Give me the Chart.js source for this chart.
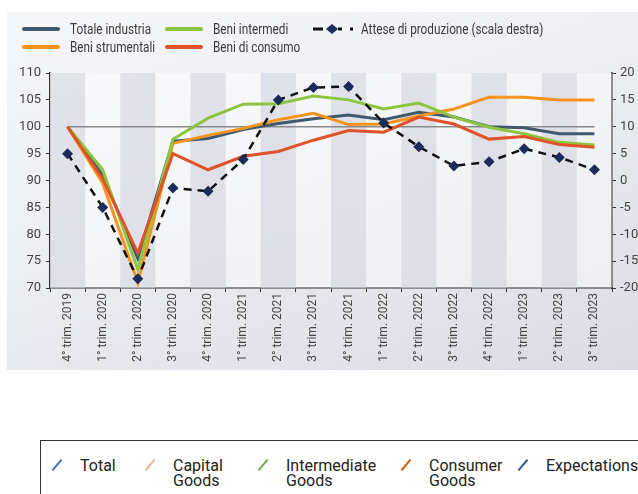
<!DOCTYPE html>
<html lang="it">
<head>
<meta charset="utf-8">
<script src="https://cdn.jsdelivr.net/npm/chart.js@4/dist/chart.umd.min.js"></script>
<style>
  html, body { margin: 0; padding: 0; background: #fff; }
  body { width: 638px; height: 494px; position: relative; overflow: hidden; font-family: "Roboto", sans-serif; color: #3a3a3a; }
  .panel { position: absolute; left: 7px; top: 12px; width: 631px; height: 358px;
    background: linear-gradient(160deg, #f6f7f9 0%, #eceef2 45%, #d9dce4 100%); }
  #chart { position: absolute; left: 0; top: 0; }
  .leg { position: absolute; font-size: 14px; line-height: 16px; white-space: nowrap; }
  .leg .tx { display: inline-block; transform: scaleX(0.84); transform-origin: left center; }
  .leg .ln { position: absolute; left: -48px; top: 6px; width: 38px; height: 4px; border-radius: 2px; }
  .box { position: absolute; left: 40px; top: 440px; width: 640px; height: 80px; border: 1.5px solid #333; box-sizing: border-box; }
  .item { position: absolute; top: 17px; font-size: 16px; line-height: 15px; color: #222; }
  .item .sl { position: absolute; left: -24px; top: 0px; width: 1.8px; height: 14px; transform: rotate(40deg); }
</style>
</head>
<body>
<div class="panel"></div>
<canvas id="chart" width="638" height="380"></canvas>

<!-- legenda in alto -->
<div class="leg" style="left:70px; top:21px;"><span class="ln" style="background:#3f5a6f"></span><span class="tx">Totale industria</span></div>
<div class="leg" style="left:213px; top:21px;"><span class="ln" style="background:#8cc63f"></span><span class="tx">Beni intermedi</span></div>
<div class="leg" style="left:70px; top:39px;"><span class="ln" style="background:#f7941d"></span><span class="tx">Beni strumentali</span></div>
<div class="leg" style="left:213px; top:39px;"><span class="ln" style="background:#e0522a"></span><span class="tx">Beni di consumo</span></div>
<svg style="position:absolute; left:310px; top:22px;" width="48" height="14">
  <line x1="3" y1="7" x2="13" y2="7" stroke="#111" stroke-width="3"/>
  <polygon points="22,2 28,7 22,12 16,7" fill="#1a2b5c"/>
  <line x1="28" y1="7" x2="32" y2="7" stroke="#111" stroke-width="3"/>
  <rect x="40" y="5.5" width="3" height="3" fill="#111"/>
</svg>
<div class="leg" style="left:361px; top:21px;"><span class="tx">Attese di produzione (scala destra)</span></div>

<!-- riquadro in basso -->
<div class="box">
  <div class="item" style="left:39px;"><span class="sl" style="background:#4472c4"></span>Total</div>
  <div class="item" style="left:132px;"><span class="sl" style="background:#f4b183"></span>Capital<br>Goods</div>
  <div class="item" style="left:245px;"><span class="sl" style="background:#70ad47"></span>Intermediate<br>Goods</div>
  <div class="item" style="left:388px;"><span class="sl" style="background:#c55a11"></span>Consumer<br>Goods</div>
  <div class="item" style="left:505px;"><span class="sl" style="background:#2f5597"></span>Expectations</div>
</div>

<script>
// categorie e serie
const trimestri = ["4° trim. 2019", "1° trim. 2020", "2° trim. 2020", "3° trim. 2020", "4° trim. 2020",
  "1° trim. 2021", "2° trim. 2021", "3° trim. 2021", "4° trim. 2021", "1° trim. 2022", "2° trim. 2022",
  "3° trim. 2022", "4° trim. 2022", "1° trim. 2023", "2° trim. 2023", "3° trim. 2023"];
const totaleIndustria = [100, 91, 75.5, 97.3, 97.8, 99.5, 100.6, 101.5, 102.2, 101.3, 102.7, 101.8, 100.0, 99.8, 98.7, 98.7];
const beniStrumentali = [100, 89.5, 71, 96.9, 98.4, 99.7, 101.3, 102.5, 100.4, 100.5, 102, 103.3, 105.5, 105.5, 105.0, 105.0];
const beniIntermedi = [100, 92, 73.5, 97.7, 101.6, 104.2, 104.3, 105.7, 105.0, 103.3, 104.4, 101.8, 99.9, 98.7, 97.1, 96.6];
const beniConsumo = [100, 90.3, 76.5, 95, 92, 94.5, 95.4, 97.5, 99.3, 99.0, 101.8, 100.5, 97.7, 98.2, 96.7, 96.2];
const atteseProduzione = [5, -5, -18.3, -1.4, -2, 3.9, 15, 17.3, 17.5, 10.7, 6.3, 2.7, 3.5, 5.9, 4.3, 2.0];
const baseIndice = 100;

const tickFont = { family: "Roboto, sans-serif", size: 13 };

// bande grigie alterne + linea a quota 100
const bandePlugin = {
  id: "bande",
  beforeDatasetsDraw(chart) {
    const { ctx, chartArea, scales } = chart;
    const x = scales.x, y = scales.y;
    const step = x.getPixelForValue(1) - x.getPixelForValue(0);
    ctx.save();
    ctx.fillStyle = "rgba(255,255,255,0.45)";
    ctx.fillRect(chartArea.left, chartArea.top, chartArea.width, chartArea.height);
    ctx.fillStyle = "rgba(205,208,218,0.55)";
    trimestri.forEach((t, i) => {
      if (i % 2 !== 0) return;
      const cx = x.getPixelForValue(i);
      ctx.fillRect(cx - step / 2, chartArea.top, step, chartArea.height);
    });
    const yy = y.getPixelForValue(baseIndice);
    ctx.strokeStyle = "#8a8a8a";
    ctx.lineWidth = 1.5;
    ctx.beginPath();
    ctx.moveTo(x.getPixelForValue(0), yy);
    ctx.lineTo(x.getPixelForValue(trimestri.length - 1), yy);
    ctx.stroke();
    ctx.restore();
  }
};

const serie = (label, data, color, order) => ({
  label, data, order,
  borderColor: color,
  borderWidth: 3,
  pointRadius: 0,
  tension: 0,
  yAxisID: "y"
});

new Chart(document.getElementById("chart"), {
  type: "line",
  data: {
    labels: trimestri,
    datasets: [
      serie("Totale industria", totaleIndustria, "#3f5a6f", 4),
      serie("Beni strumentali", beniStrumentali, "#f7941d", 3),
      serie("Beni intermedi", beniIntermedi, "#8cc63f", 2),
      serie("Beni di consumo", beniConsumo, "#e0522a", 1),
      {
        label: "Attese di produzione (scala destra)",
        data: atteseProduzione,
        order: 0,
        yAxisID: "y1",
        borderColor: "#111",
        borderWidth: 2.5,
        borderDash: [8, 6],
        pointStyle: "rectRot",
        pointRadius: 5.5,
        pointBackgroundColor: "#1a2b5c",
        pointBorderColor: "#1a2b5c",
        pointBorderWidth: 0,
        tension: 0
      }
    ]
  },
  options: {
    responsive: false,
    animation: false,
    layout: { padding: { top: 73, left: 0, right: 0, bottom: 0 } },
    plugins: { legend: { display: false }, tooltip: { enabled: false } },
    scales: {
      x: {
        offset: true,
        afterFit: s => { s.height = 92; },
        border: { color: "#333", width: 1.5 },
        grid: { drawOnChartArea: false, tickLength: 4, color: "#333", offset: true },
        ticks: { autoSkip: false, minRotation: 90, maxRotation: 90, padding: 1, color: "#444", font: { family: tickFont.family, size: 12 } }
      },
      y: {
        position: "left",
        min: 70, max: 110,
        afterFit: s => { s.width = 50; },
        border: { color: "#333", width: 1.5 },
        grid: { drawOnChartArea: false, tickLength: 4, color: "#333" },
        ticks: { stepSize: 5, padding: 5, color: "#444", font: tickFont }
      },
      y1: {
        position: "right",
        min: -20, max: 20,
        afterFit: s => { s.width = 26; },
        border: { color: "#333", width: 1.5 },
        grid: { drawOnChartArea: false, tickLength: 4, color: "#333" },
        ticks: { stepSize: 5, padding: 4, color: "#444", font: tickFont }
      }
    }
  },
  plugins: [bandePlugin]
});
</script>
</body>
</html>
